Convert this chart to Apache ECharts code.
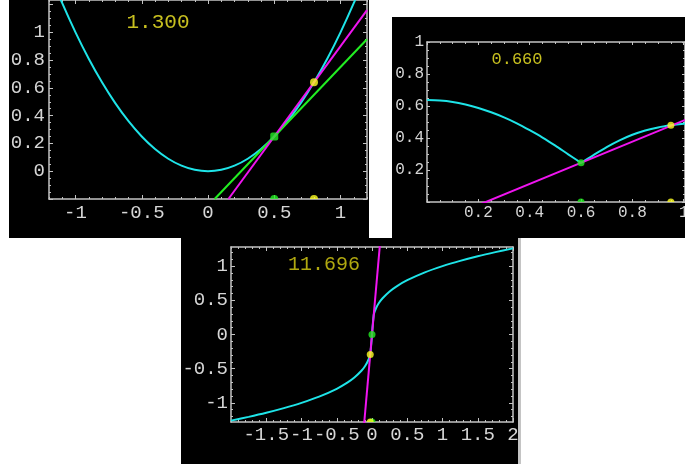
<!DOCTYPE html>
<html>
<head>
<meta charset="utf-8">
<title>secant slopes</title>
<script src="https://cdn.jsdelivr.net/npm/echarts@6/dist/echarts.min.js"></script>
<style>
html,body{margin:0;padding:0;background:#fff;}
#main{width:685px;height:464px;}
</style>
</head>
<body>
<div id="main"></div>
<script>
// ---- panel 1 : parabola, tangent and secant ----
var p1CurveX = [-1.2,-1.1,-1,-0.9,-0.8,-0.7,-0.6,-0.5,-0.4,-0.3,-0.2,-0.1,0,0.1,0.2,0.3,0.4,0.5,0.6,0.7,0.8,0.9,1,1.1,1.2];
var p1CurveY = [1.44,1.21,1,0.81,0.64,0.49,0.36,0.25,0.16,0.09,0.04,0.01,0,0.01,0.04,0.09,0.16,0.25,0.36,0.49,0.64,0.81,1,1.21,1.44];
var p1TangentX = [0.05, 1.2];
var p1TangentY = [-0.2, 0.95];
var p1SecantX = [0.154, 1.2];
var p1SecantY = [-0.2, 1.16];
var p1Green = [0.5, 0.25];
var p1Yellow = [0.8, 0.64];
var p1Slope = '1.300';
var p1XTicks = [-1, -0.5, 0, 0.5, 1];
var p1YTicks = [0, 0.2, 0.4, 0.6, 0.8, 1];

// ---- panel 2 : curve with a corner ----
var p2LeftX = [0,0.05,0.1,0.15,0.2,0.25,0.3,0.35,0.4,0.45,0.5,0.55,0.6];
var p2LeftY = [0.637,0.634,0.625,0.609,0.588,0.561,0.529,0.492,0.449,0.403,0.352,0.298,0.245];
var p2RightX = [0.6,0.65,0.7,0.75,0.8,0.85,0.9,0.95,1,1.05];
var p2RightY = [0.245,0.295,0.343,0.385,0.42,0.447,0.466,0.479,0.489,0.497];
var p2SecantX = [0.2, 1.05];
var p2SecantY = [-0.019, 0.542];
var p2Green = [0.6, 0.245];
var p2Yellow = [0.95, 0.479];
var p2Slope = '0.660';
var p2XTicks = [0.2, 0.4, 0.6, 0.8, 1];
var p2YTicks = [0.2, 0.4, 0.6, 0.8, 1];

// ---- panel 3 : cube root ----
var p3CurveX = [-2,-1.75,-1.5,-1.25,-1,-0.75,-0.5,-0.35,-0.25,-0.15,-0.1,-0.06,-0.025,0.025,0.06,0.1,0.15,0.25,0.35,0.5,0.75,1,1.25,1.5,1.75,2];
var p3CurveY = [-1.26,-1.205,-1.145,-1.077,-1,-0.909,-0.794,-0.705,-0.63,-0.531,-0.464,-0.391,-0.292,0.292,0.391,0.464,0.531,0.63,0.705,0.794,0.909,1,1.077,1.145,1.205,1.26];
var p3SecantX = [-0.12, 0.12];
var p3SecantY = [-1.404, 1.404];
var p3Green = [0, 0];
var p3Yellow = [-0.025, -0.292];
var p3Slope = '11.696';
var p3XTicks = [-1.5, -1, -0.5, 0, 0.5, 1, 1.5, 2];
var p3YTicks = [-1, -0.5, 0, 0.5, 1];

var cyan = '#1ee4e8', magenta = '#f014f0', green = '#22ee22', yellow = '#ffff22';
var frameColor = '#c4c4c4';
var labelColor = '#d6d6d6';
var monoFont = '"Liberation Mono", "DejaVu Sans Mono", monospace';

var pairs = function (xs, ys) {
	var out = [];
	for (var i = 0; i < xs.length; i++) out.push([xs[i], ys[i]]);
	return out;
};

// minor tick positions, majors left out
var stepTicks = function (min, max, step, majors) {
	var out = [];
	var n = Math.floor((max - min) / step + 1e-6);
	for (var i = 0; i <= n; i++) {
		var v = +(min + i * step).toFixed(4);
		var isMajor = majors.some(function (m) { return Math.abs(m - v) < 1e-6; });
		if (!isMajor) out.push(v);
	}
	return out;
};

// four axes per dimension: frame side with labels, its minor ticks, opposite side, its minor ticks
var frameAxes = function (gi, dim, min, max, majors, minors, labels, fontSize, margin, majLen) {
	var sides = dim == 'x' ? ['bottom', 'top'] : ['left', 'right'];
	var list = [];
	sides.forEach(function (pos, k) {
		list.push({
			type: 'value', gridIndex: gi, position: pos, min: min, max: max,
			axisLine: {show: true, onZero: false, lineStyle: {color: frameColor, width: 1.5}},
			axisTick: {show: true, inside: true, length: majLen, customValues: majors, lineStyle: {color: frameColor, width: 1}},
			axisLabel: {show: k == 0, customValues: labels, color: labelColor, fontFamily: monoFont, fontSize: fontSize, margin: margin},
			splitLine: {show: false}
		});
		list.push({
			type: 'value', gridIndex: gi, position: pos, min: min, max: max,
			axisLine: {show: false, onZero: false},
			axisTick: {show: true, inside: true, length: Math.max(2, majLen - 2), customValues: minors, lineStyle: {color: frameColor, width: 1}},
			axisLabel: {show: false},
			splitLine: {show: false}
		});
	});
	return list;
};

var lineSeries = function (gi, data, color, width) {
	return {
		type: 'line', xAxisIndex: 4 * gi, yAxisIndex: 4 * gi, data: data,
		symbol: 'none', smooth: 0.3, clip: true,
		lineStyle: {color: color, width: width}, silent: true, z: 2
	};
};

var dot = function (gi, pt, color, size, shape) {
	return {
		type: 'scatter', xAxisIndex: 4 * gi, yAxisIndex: 4 * gi, data: [pt],
		symbol: shape || 'circle', symbolSize: size, clip: false,
		itemStyle: {color: color}, silent: true, z: 5
	};
};

// half dot sitting on the bottom frame
var halfDot = function (gi, x, yMin, color, size) {
	return {
		type: 'scatter', xAxisIndex: 4 * gi, yAxisIndex: 4 * gi, data: [[x, yMin]],
		symbol: 'path://M0,10A10,10,0,0,1,20,10Z', symbolSize: [size, size / 2],
		symbolOffset: [0, -size / 4], clip: false,
		itemStyle: {color: color}, silent: true, z: 5
	};
};

var p1Range = {x: [-1.2, 1.2], y: [-0.2, 1.233]};
var p2Range = {x: [0, 1.005], y: [0, 1]};
var p3Range = {x: [-2, 2], y: [-1.28, 1.28]};

var p1YMajors = [-0.2].concat(p1YTicks, [1.2]);
var p2XMajors = [0].concat(p2XTicks);
var p2YMajors = [0].concat(p2YTicks);

var xAxes = [].concat(
	frameAxes(0, 'x', p1Range.x[0], p1Range.x[1], p1XTicks, stepTicks(-1.2, 1.2, 0.1, p1XTicks), p1XTicks, 19, 4, 4),
	frameAxes(1, 'x', p2Range.x[0], p2Range.x[1], p2XMajors, stepTicks(0, 1.005, 0.05, p2XMajors), p2XTicks, 16, 3, 3),
	frameAxes(2, 'x', p3Range.x[0], p3Range.x[1], p3XTicks, stepTicks(-2, 2, 0.1, p3XTicks), p3XTicks, 19, 3, 4)
);
var yAxes = [].concat(
	frameAxes(0, 'y', p1Range.y[0], p1Range.y[1], p1YMajors, stepTicks(-0.2, 1.233, 0.05, p1YMajors), p1YTicks, 19, 4, 4),
	frameAxes(1, 'y', p2Range.y[0], p2Range.y[1], p2YMajors, stepTicks(0, 1, 0.05, p2YMajors), p2YTicks, 16, 3, 3),
	frameAxes(2, 'y', p3Range.y[0], p3Range.y[1], p3YTicks, stepTicks(-1.2, 1.2, 0.1, p3YTicks), p3YTicks, 19, 3, 4)
);

var rect = function (x, y, w, h, fill, z) {
	return {type: 'rect', shape: {x: x, y: y, width: w, height: h}, style: {fill: fill}, z: z, silent: true};
};
var slopeText = function (txt, x, y, size, color) {
	return {
		type: 'text', x: x, y: y, z: 60, silent: true,
		style: {text: txt, fill: color, font: size + 'px ' + monoFont, textAlign: 'center', textVerticalAlign: 'middle', align: 'center', verticalAlign: 'middle'}
	};
};

var chart = echarts.init(document.getElementById('main'));
chart.setOption({
	backgroundColor: '#fff',
	animation: false,
	grid: [
		{left: 49, right: 318, top: 0, bottom: 265, outerBoundsMode: 'none'},
		{left: 427, right: 0, top: 42, bottom: 262, outerBoundsMode: 'none'},
		{left: 231, right: 172, top: 247, bottom: 42, outerBoundsMode: 'none'}
	],
	xAxis: xAxes,
	yAxis: yAxes,
	graphic: [
		// black screenshots
		rect(9, 0, 360, 238, '#000', -10),
		rect(392, 17, 293, 221, '#000', -10),
		rect(181, 238, 337, 226, '#000', -10),
		rect(518, 238, 3, 226, '#c4c4c4', -10),
		// white gaps cover labels that spill out
		rect(0, 0, 9, 238, '#fff', 50),
		rect(369, 0, 23, 238, '#fff', 50),
		rect(369, 0, 316, 17, '#fff', 50),
		rect(0, 238, 181, 226, '#fff', 50),
		rect(521, 238, 164, 226, '#fff', 50),
		slopeText(p1Slope, 158, 22, 21, '#c8c020'),
		slopeText(p2Slope, 517, 59, 17, '#c8c020'),
		slopeText(p3Slope, 324, 265, 20, '#b0a810')
	],
	series: [
		lineSeries(0, pairs(p1CurveX, p1CurveY), cyan, 2),
		lineSeries(0, pairs(p1TangentX, p1TangentY), green, 2),
		lineSeries(0, pairs(p1SecantX, p1SecantY), magenta, 2),
		dot(0, p1Green, green, 8, 'roundRect'),
		dot(0, p1Yellow, yellow, 8),
		halfDot(0, p1Green[0], p1Range.y[0], green, 8),
		halfDot(0, p1Yellow[0], p1Range.y[0], yellow, 8),

		lineSeries(1, pairs(p2LeftX, p2LeftY), cyan, 2),
		lineSeries(1, pairs(p2RightX, p2RightY), cyan, 2),
		lineSeries(1, pairs(p2SecantX, p2SecantY), magenta, 2),
		dot(1, p2Green, green, 7),
		dot(1, p2Yellow, yellow, 7),
		halfDot(1, p2Green[0], p2Range.y[0], green, 7),
		halfDot(1, p2Yellow[0], p2Range.y[0], yellow, 7),

		lineSeries(2, pairs(p3CurveX, p3CurveY), cyan, 2),
		lineSeries(2, pairs(p3SecantX, p3SecantY), magenta, 2),
		dot(2, p3Green, green, 7),
		dot(2, p3Yellow, yellow, 7),
		halfDot(2, p3Green[0], p3Range.y[0], green, 7),
		halfDot(2, p3Yellow[0], p3Range.y[0], yellow, 7)
	]
});
</script>
</body>
</html>
